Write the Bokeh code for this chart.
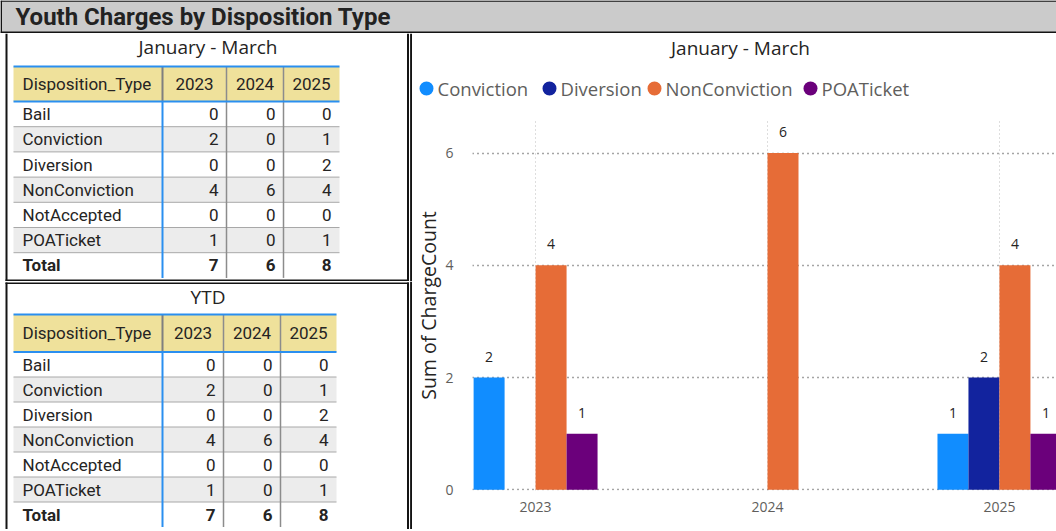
from bokeh.plotting import figure
from bokeh.layouts import column, row
from bokeh.models import Range1d, FixedTicker, ColumnDataSource, BasicTickFormatter
from bokeh.core.properties import value
from bokeh.embed import file_html
from bokeh.resources import INLINE

# ---------------- data ----------------
page_title = "Youth Charges by Disposition Type"
period_title = "January - March"
ytd_title = "YTD"
first_col_header = "Disposition_Type"
total_label = "Total"

disposition_types = ["Bail", "Conviction", "Diversion", "NonConviction", "NotAccepted", "POATicket"]
years = ["2023", "2024", "2025"]

jan_mar_2023 = [0, 2, 0, 4, 0, 1]
jan_mar_2024 = [0, 0, 0, 6, 0, 0]
jan_mar_2025 = [0, 1, 2, 4, 0, 1]

ytd_2023 = [0, 2, 0, 4, 0, 1]
ytd_2024 = [0, 0, 0, 6, 0, 0]
ytd_2025 = [0, 1, 2, 4, 0, 1]

chart_series = ["Conviction", "Diversion", "NonConviction", "POATicket"]
y_ticks = [0, 2, 4, 6]
y_axis_label = "Sum of ChargeCount"

# ---------------- styles / layout ----------------
SERIES_COLORS = ["#118DFF", "#12239E", "#E66C37", "#6B007B"]
LEGEND_X = [14, 137, 242, 398]          # legend marker positions (px in header)
INK = "#252423"
SOFT = "#605E5C"
BLACK = "#141414"
TITLE_BG = "#CBCBCB"
HEAD_FILL = "#EFE19B"
ROW_ALT = "#ECECEC"
SEP = "#A8A8A8"
VGRAY = "#8C8C8C"
BLUE = "#2A8FF0"
TABLE_FONT = "Roboto"
TABLE_FS = "17px"
CHART_FONT = "Open Sans"


def blank(w, h, xr, yr, bg="white"):
    f = figure(width=w, height=h, x_range=Range1d(*xr), y_range=Range1d(*yr),
               output_backend="svg", toolbar_location=None,
               x_axis_location=None, y_axis_location=None, min_border=0)
    f.background_fill_color = bg
    f.border_fill_color = bg
    f.outline_line_color = None
    f.grid.visible = False
    return f


def txt(f, x, y, t, size, font=TABLE_FONT, align="left", color=INK, style="normal",
        baseline="middle"):
    f.text(x=x, y=y, text=t, text_font=value(font), text_font_size=size,
           text_align=align, text_baseline=baseline, text_color=color,
           text_font_style=style)


# ---------------- title bar ----------------
tf = blank(1056, 33, (0, 1056), (33, 0), bg=TITLE_BG)
tf.quad(left=[0, 0, 0], right=[1056, 1.5, 1056], top=[0, 0, 31], bottom=[1.2, 33, 33],
        fill_color=BLACK, line_color=None)
txt(tf, [15], [16.5], [page_title], "24px", style="bold", color="#222222")


# ---------------- tables ----------------
def table_panel(title, vals, title_y, head_top, head_bot, row_h, cols, borders):
    f = blank(412, 248, (0, 412), (248, 0))
    n = len(disposition_types)
    x0, x1 = cols[0], cols[-1]
    tbl_bot = head_bot + (n + 1) * row_h

    f.quad(left=[x0], right=[x1], top=[head_top], bottom=[head_bot],
           fill_color=HEAD_FILL, line_color=None)
    tops = [head_bot + i * row_h for i in range(n)]
    f.quad(left=x0, right=x1, top=tops, bottom=[t + row_h for t in tops],
           fill_color=[ROW_ALT if i % 2 else "white" for i in range(n)], line_color=None)
    seps = [head_bot + (i + 1) * row_h for i in range(n)]
    f.segment(x0=x0, x1=x1, y0=seps, y1=seps, line_color=SEP, line_width=1)
    f.segment(x0=[cols[1]], x1=[cols[1]], y0=[head_top], y1=[head_bot],
              line_color="#7F7F7F", line_width=2)
    f.segment(x0=cols[2:4], x1=cols[2:4], y0=head_top, y1=tbl_bot,
              line_color=VGRAY, line_width=1.5)
    f.segment(x0=[cols[1]], x1=[cols[1]], y0=[head_bot], y1=[tbl_bot],
              line_color=BLUE, line_width=2)
    f.segment(x0=x0, x1=x1, y0=[head_top, head_bot], y1=[head_top, head_bot],
              line_color=BLUE, line_width=2)

    hy = (head_top + head_bot) / 2
    txt(f, [x0 + 9], [hy], [first_col_header], TABLE_FS)
    centers = [(cols[j + 1] + cols[j + 2]) / 2 for j in range(len(years))]
    txt(f, centers, [hy] * len(years), years, TABLE_FS, align="center")
    ys = [head_bot + (i + 0.5) * row_h for i in range(n)]
    txt(f, [x0 + 9] * n, ys, disposition_types, TABLE_FS)
    for j, v in enumerate(vals):
        txt(f, [cols[j + 2] - 8] * n, ys, [str(a) for a in v], TABLE_FS, align="right")
    ty = head_bot + (n + 0.5) * row_h
    txt(f, [x0 + 9], [ty], [total_label], TABLE_FS, style="bold")
    txt(f, [cols[j + 2] - 8 for j in range(len(vals))], [ty] * len(vals),
        [str(sum(v)) for v in vals], TABLE_FS, align="right", style="bold")
    txt(f, [207.5], [title_y], [title], "19px", font=CHART_FONT, align="center")

    f.quad(left=borders[0], right=borders[1], top=borders[2], bottom=borders[3],
           fill_color=BLACK, line_color=None)
    return f


t1 = table_panel(period_title, [jan_mar_2023, jan_mar_2024, jan_mar_2025],
                 13.5, 33, 68, 25.2, [13, 162, 226, 283, 339],
                 ([5, 406.5, 5, 409.6], [7, 408.5, 408.5, 411.6],
                  [0, 0, 246, 0], [247.5, 247.5, 247.5, 248]))
t2 = table_panel(ytd_title, [ytd_2023, ytd_2024, ytd_2025],
                 15.5, 33, 70.5, 25, [13, 162, 223, 280, 336],
                 ([5, 406.5, 5, 409.6], [7, 408.5, 408.5, 411.6],
                  [1, 1, 1, 0], [248, 248, 2.5, 248]))

# ---------------- chart header (title + legend) ----------------
hdr = blank(644, 75, (0, 644), (75, 0))
txt(hdr, [328], [14], [period_title], "19px", font=CHART_FONT, align="center")
hdr.scatter(x=LEGEND_X, y=[55] * len(chart_series), marker="circle", size=14,
            fill_color=SERIES_COLORS, line_color=None)
txt(hdr, [x + 11 for x in LEGEND_X], [55] * len(chart_series), chart_series,
    "18.5px", font=CHART_FONT, color=SOFT)

# ---------------- bar chart ----------------
bar_w = 0.1336
p = figure(width=644, height=421, x_range=Range1d(2022.728, 2025.246),
           y_range=Range1d(-0.012, 6.58), output_backend="svg", toolbar_location=None,
           min_border_left=59, min_border_right=0, min_border_top=12, min_border_bottom=39)
p.outline_line_color = None
p.background_fill_color = "white"
p.border_fill_color = "white"

year_nums = [int(y) for y in years]
p.xaxis.ticker = FixedTicker(ticks=year_nums)
p.xaxis.formatter = BasicTickFormatter(use_scientific=False)
p.yaxis.ticker = FixedTicker(ticks=y_ticks)
for ax in (p.xaxis, p.yaxis):
    ax.axis_line_color = None
    ax.major_tick_line_color = None
    ax.minor_tick_line_color = None
    ax.major_label_text_font = CHART_FONT
    ax.major_label_text_font_size = "14px"
    ax.major_label_text_color = SOFT
p.xaxis.major_label_standoff = 5
p.yaxis.major_label_standoff = 13
p.yaxis.axis_label = y_axis_label
p.yaxis.axis_label_text_font = CHART_FONT
p.yaxis.axis_label_text_font_size = "19.5px"
p.yaxis.axis_label_text_font_style = "normal"
p.yaxis.axis_label_text_color = INK
p.yaxis.axis_label_standoff = 0

p.ygrid.ticker = FixedTicker(ticks=y_ticks)
p.ygrid.grid_line_color = "#4A4A4A"
p.ygrid.grid_line_dash = "1 4"
p.ygrid.grid_line_width = 1.3
p.xgrid.ticker = FixedTicker(ticks=year_nums)
p.xgrid.grid_line_color = "#BDBDBD"
p.xgrid.grid_line_dash = "1 3"
p.xgrid.grid_line_width = 1

jan_mar_by_year = [jan_mar_2023, jan_mar_2024, jan_mar_2025]
for i, (s, c) in enumerate(zip(chart_series, SERIES_COLORS)):
    k = disposition_types.index(s)
    xs, tops = [], []
    for yn, vals in zip(year_nums, jan_mar_by_year):
        if vals[k] > 0:
            xs.append(yn + (i - 1.5) * bar_w)
            tops.append(vals[k])
    src = ColumnDataSource(dict(x=xs, top=tops, label=[str(v) for v in tops]))
    p.vbar(x="x", top="top", bottom=0, width=bar_w, source=src,
           fill_color=c, line_color=None)
    p.text(x="x", y="top", text="label", source=src, text_align="center",
           text_baseline="alphabetic", y_offset=-21, text_font=value(CHART_FONT),
           text_font_size="14px", text_color=INK)

strip = blank(1056, 2, (0, 1), (0, 1), bg=BLACK)

layout = column(tf, row(column(t1, t2), column(row(hdr), p)), strip)

open("out.html", "w").write(file_html(layout, INLINE))
